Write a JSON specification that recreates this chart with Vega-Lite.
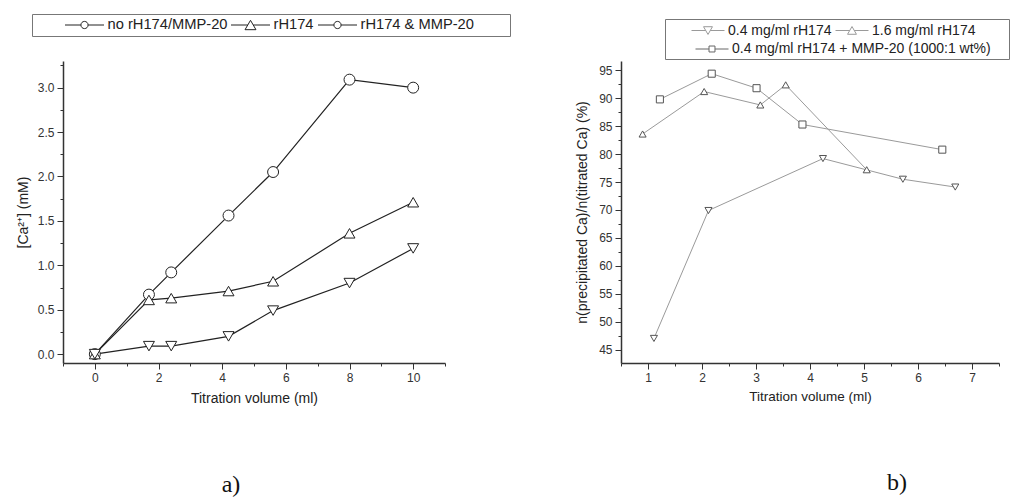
{
  "$schema": "https://vega.github.io/schema/vega-lite/v6.json",
  "padding": {"left": 16, "top": 13, "right": 0, "bottom": 0},
  "background": "white",
  "bounds": "flush",
  "spacing": 176,
  "resolve": {
    "scale": {"stroke": "independent", "shape": "independent", "opacity": "independent"},
    "legend": {"stroke": "independent", "shape": "independent", "opacity": "independent"}
  },
  "config": {
    "view": {"stroke": null},
    "font": "Liberation Sans",
    "axis": {
      "grid": false,
      "domainColor": "#333",
      "domainWidth": 1.5,
      "tickColor": "#333",
      "tickWidth": 1,
      "labelFont": "Liberation Sans",
      "labelFontSize": 12,
      "labelColor": "#333",
      "labelPadding": 3,
      "labelOverlap": false,
      "labelFlush": false,
      "titleFont": "Liberation Sans",
      "titleFontSize": 14,
      "titleFontWeight": "normal",
      "titleColor": "#222"
    }
  },
  "datasets": {
    "a": [
      {"s": "no rH174/MMP-20", "v": 0, "c": 0},
      {"s": "no rH174/MMP-20", "v": 1.7, "c": 0.67},
      {"s": "no rH174/MMP-20", "v": 2.4, "c": 0.92},
      {"s": "no rH174/MMP-20", "v": 4.2, "c": 1.56},
      {"s": "no rH174/MMP-20", "v": 5.6, "c": 2.05},
      {"s": "no rH174/MMP-20", "v": 8, "c": 3.09},
      {"s": "no rH174/MMP-20", "v": 10, "c": 3.0},
      {"s": "rH174", "v": 0, "c": 0},
      {"s": "rH174", "v": 1.7, "c": 0.61},
      {"s": "rH174", "v": 2.4, "c": 0.63},
      {"s": "rH174", "v": 4.2, "c": 0.71},
      {"s": "rH174", "v": 5.6, "c": 0.82},
      {"s": "rH174", "v": 8, "c": 1.36},
      {"s": "rH174", "v": 10, "c": 1.71},
      {"s": "rH174 & MMP-20", "v": 0, "c": 0},
      {"s": "rH174 & MMP-20", "v": 1.7, "c": 0.09},
      {"s": "rH174 & MMP-20", "v": 2.4, "c": 0.09},
      {"s": "rH174 & MMP-20", "v": 4.2, "c": 0.2},
      {"s": "rH174 & MMP-20", "v": 5.6, "c": 0.49},
      {"s": "rH174 & MMP-20", "v": 8, "c": 0.8},
      {"s": "rH174 & MMP-20", "v": 10, "c": 1.19}
    ],
    "b": [
      {"s": "0.4 mg/ml rH174", "v": 1.11, "p": 47.0},
      {"s": "0.4 mg/ml rH174", "v": 2.12, "p": 69.9},
      {"s": "0.4 mg/ml rH174", "v": 4.24, "p": 79.2},
      {"s": "0.4 mg/ml rH174", "v": 5.72, "p": 75.5},
      {"s": "0.4 mg/ml rH174", "v": 6.69, "p": 74.1},
      {"s": "1.6 mg/ml rH174", "v": 0.9, "p": 83.6},
      {"s": "1.6 mg/ml rH174", "v": 2.04, "p": 91.2},
      {"s": "1.6 mg/ml rH174", "v": 3.08, "p": 88.8},
      {"s": "1.6 mg/ml rH174", "v": 3.55, "p": 92.4},
      {"s": "1.6 mg/ml rH174", "v": 5.05, "p": 77.2},
      {"s": "0.4 mg/ml rH174 + MMP-20 (1000:1 wt%)", "v": 1.22, "p": 89.8},
      {"s": "0.4 mg/ml rH174 + MMP-20 (1000:1 wt%)", "v": 2.18, "p": 94.4},
      {"s": "0.4 mg/ml rH174 + MMP-20 (1000:1 wt%)", "v": 3.01, "p": 91.8},
      {"s": "0.4 mg/ml rH174 + MMP-20 (1000:1 wt%)", "v": 3.86, "p": 85.3},
      {"s": "0.4 mg/ml rH174 + MMP-20 (1000:1 wt%)", "v": 6.45, "p": 80.8}
    ]
  },
  "hconcat": [
    {
      "width": 382,
      "height": 302,
      "title": {"text": "a)", "orient": "bottom", "frame": "group", "anchor": "middle", "dx": -23, "offset": 68, "font": "Liberation Serif", "fontSize": 24, "fontWeight": "normal", "color": "#111"},
      "data": {"name": "a"},
      "encoding": {
        "x": {
          "field": "v", "type": "quantitative",
          "scale": {"domain": [-1, 11], "nice": false, "zero": false},
          "axis": {
            "title": "Titration volume (ml)",
            "values": [-1, 0, 1, 2, 3, 4, 5, 6, 7, 8, 9, 10, 11],
            "labelExpr": "datum.value % 2 === 0 ? format(datum.value, 'd') : ''",
            "tickSize": {"condition": {"test": "datum.value % 2 !== 0", "value": 3}, "value": 6},
            "titlePadding": 8
          }
        },
        "y": {
          "field": "c", "type": "quantitative",
          "scale": {"domain": [-0.1, 3.3], "nice": false, "zero": false},
          "axis": {
            "title": "[Ca²⁺] (mM)",
            "values": [0, 0.25, 0.5, 0.75, 1, 1.25, 1.5, 1.75, 2, 2.25, 2.5, 2.75, 3, 3.25],
            "labelExpr": "datum.value % 0.5 === 0 ? format(datum.value, '.1f') : ''",
            "tickSize": {"condition": {"test": "datum.value % 0.5 !== 0", "value": 3}, "value": 6},
            "titlePadding": 7
          }
        }
      },
      "layer": [
        {
          "mark": {"type": "line", "strokeWidth": 1.2},
          "encoding": {
            "stroke": {
              "field": "s", "type": "nominal",
              "scale": {"domain": ["no rH174/MMP-20", "rH174", "rH174 & MMP-20"], "range": ["#222", "#222", "#222"]},
              "legend": {
                "orient": "none", "legendX": -31, "legendY": -47,
                "direction": "horizontal", "columns": 3,
                "title": "\u00a0", "titleOrient": "left", "titlePadding": 30, "titleFontSize": 10,
                "strokeColor": "#777", "padding": 2.5,
                "symbolSize": 1521, "clipHeight": 17, "labelOffset": 3, "columnPadding": 3,
                "labelFont": "Liberation Sans", "labelFontSize": 14.7, "labelColor": "#222", "labelLimit": 400,
                "labelExpr": "datum.value === 'rH174 & MMP-20' ? datum.label + '\u2800\u2800\u2800' : datum.label",
                "encode": {
                  "symbols": {
                    "update": {
                      "shape": {"signal": "datum.value === 'rH174' ? 'M-1,0L-0.14,0M0.14,0L1,0M0,-0.24L0.28,0.24L-0.28,0.24Z' : 'M-1,0L-0.185,0M0.185,0L1,0M0.185,0A0.185,0.185,0,1,1,-0.185,0A0.185,0.185,0,1,1,0.185,0Z'"},
                      "stroke": {"value": "#222"},
                      "fill": {"value": "white"},
                      "strokeWidth": {"value": 1},
                      "size": {"value": 1521},
                      "opacity": {"value": 1}
                    }
                  }
                }
              }
            }
          }
        },
        {
          "mark": {"type": "point", "filled": true, "fill": "white", "stroke": "#222", "strokeWidth": 1, "opacity": 1, "size": 120},
          "encoding": {
            "shape": {
              "field": "s", "type": "nominal",
              "scale": {"domain": ["rH174", "no rH174/MMP-20", "rH174 & MMP-20"], "range": ["triangle-up", "circle", "triangle-down"]},
              "legend": null
            }
          }
        }
      ]
    },
    {
      "width": 378,
      "height": 302,
      "title": {"text": "b)", "orient": "bottom", "frame": "group", "anchor": "middle", "dx": 87, "offset": 68, "font": "Liberation Serif", "fontSize": 24, "fontWeight": "normal", "color": "#111"},
      "data": {"name": "b"},
      "encoding": {
        "x": {
          "field": "v", "type": "quantitative",
          "scale": {"domain": [0.5, 7.5], "nice": false, "zero": false},
          "axis": {
            "title": "Titration volume (ml)",
            "titleFontSize": 13.5,
            "values": [0.5, 1, 1.5, 2, 2.5, 3, 3.5, 4, 4.5, 5, 5.5, 6, 6.5, 7, 7.5],
            "labelExpr": "datum.value % 1 === 0 ? format(datum.value, 'd') : ''",
            "tickSize": {"condition": {"test": "datum.value % 1 !== 0", "value": 3}, "value": 6},
            "titlePadding": 6
          }
        },
        "y": {
          "field": "p", "type": "quantitative",
          "scale": {"domain": [42.6, 96.67], "nice": false, "zero": false},
          "axis": {
            "title": "n(precipitated Ca)/n(titrated Ca) (%)",
            "values": [45, 47.5, 50, 52.5, 55, 57.5, 60, 62.5, 65, 67.5, 70, 72.5, 75, 77.5, 80, 82.5, 85, 87.5, 90, 92.5, 95],
            "labelExpr": "datum.value % 5 === 0 ? format(datum.value, 'd') : ''",
            "tickSize": {"condition": {"test": "datum.value % 5 !== 0", "value": 3}, "value": 6},
            "titlePadding": 9
          }
        }
      },
      "layer": [
        {
          "mark": {"type": "line", "strokeWidth": 1},
          "encoding": {
            "stroke": {
              "field": "s", "type": "nominal",
              "scale": {"domain": ["0.4 mg/ml rH174", "1.6 mg/ml rH174", "0.4 mg/ml rH174 + MMP-20 (1000:1 wt%)"], "range": ["#9a9a9a", "#9a9a9a", "#9a9a9a"]},
              "legend": {
                "orient": "none", "legendX": 44, "legendY": -42,
                "direction": "horizontal", "columns": 2,
                "values": ["0.4 mg/ml rH174", "1.6 mg/ml rH174"],
                "title": "\u00a0", "titleOrient": "left", "titlePadding": 23, "titleFontSize": 10,
                "strokeColor": "#777", "padding": 3,
                "symbolSize": 1089, "clipHeight": 34, "labelOffset": 3, "columnPadding": 3,
                "labelFont": "Liberation Sans", "labelFontSize": 14, "labelColor": "#222", "labelLimit": 400,
                "labelExpr": "datum.value === '1.6 mg/ml rH174' ? datum.label + '\u2800\u2800\u2800' : datum.label",
                "encode": {
                  "symbols": {
                    "update": {
                      "shape": {"signal": "datum.value === '1.6 mg/ml rH174' ? 'M-1,0L-0.14,0M0.14,0L1,0M0,-0.24L0.27,0.23L-0.27,0.23Z' : 'M-1,0L-0.14,0M0.14,0L1,0M0,0.24L0.27,-0.23L-0.27,-0.23Z'"},
                      "stroke": {"value": "#666"},
                      "fill": {"value": "white"},
                      "strokeWidth": {"value": 1},
                      "size": {"value": 1089},
                      "opacity": {"value": 1},
                      "y": {"value": 8.5}
                    }
                  },
                  "labels": {
                    "update": {
                      "y": {"value": 8.5}
                    }
                  }
                }
              }
            },
            "opacity": {
              "field": "s", "type": "nominal",
              "scale": {"domain": ["0.4 mg/ml rH174 + MMP-20 (1000:1 wt%)", "1.6 mg/ml rH174", "0.4 mg/ml rH174"], "range": [1, 1, 1]},
              "legend": {
                "orient": "none", "legendX": 74, "legendY": -20.5,
                "direction": "horizontal",
                "values": ["0.4 mg/ml rH174 + MMP-20 (1000:1 wt%)"],
                "title": null, "padding": 0,
                "symbolSize": 1089, "clipHeight": 17, "labelOffset": 3,
                "labelFont": "Liberation Sans", "labelFontSize": 14, "labelColor": "#222", "labelLimit": 400,
                "encode": {
                  "symbols": {
                    "update": {
                      "shape": {"value": "M-1,0L-0.18,0M0.18,0L1,0M-0.18,-0.18L0.18,-0.18L0.18,0.18L-0.18,0.18Z"},
                      "stroke": {"value": "#666"},
                      "fill": {"value": "white"},
                      "strokeWidth": {"value": 1},
                      "size": {"value": 1089}
                    }
                  }
                }
              }
            }
          }
        },
        {
          "mark": {"type": "point", "filled": true, "fill": "white", "stroke": "#555", "strokeWidth": 1, "opacity": 1, "size": 50},
          "encoding": {
            "shape": {
              "field": "s", "type": "nominal",
              "scale": {"domain": ["1.6 mg/ml rH174", "0.4 mg/ml rH174", "0.4 mg/ml rH174 + MMP-20 (1000:1 wt%)"], "range": ["triangle-up", "triangle-down", "square"]},
              "legend": null
            }
          }
        }
      ]
    }
  ]
}
